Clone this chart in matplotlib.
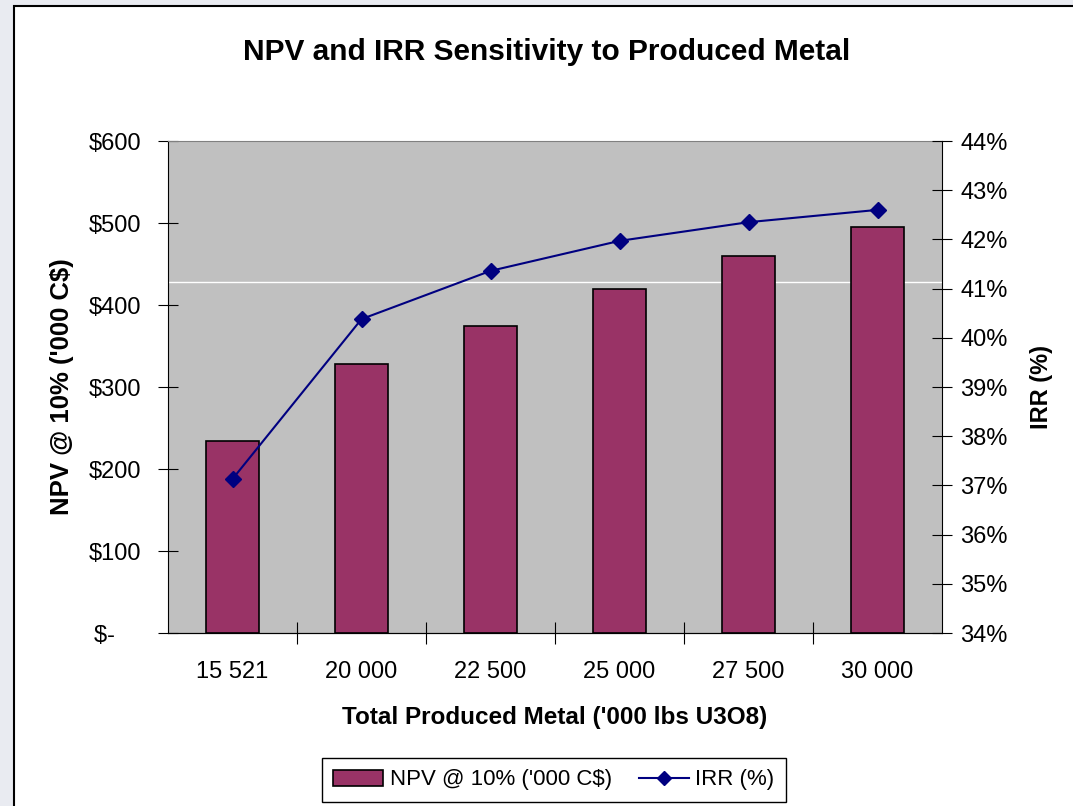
"""NPV and IRR sensitivity to produced metal."""

import matplotlib
matplotlib.use('Agg')
import matplotlib.pyplot as plt
import matplotlib.patches as patches
from matplotlib.lines import Line2D
import numpy as np

plt.rcParams['font.family'] = ['Liberation Sans', 'DejaVu Sans']

fontsize_title = 21.5
fontsize_label = 17.5
fontsize_ticks = 17

categories = ['15 521', '20 000', '22 500', '25 000', '27 500', '30 000']
npv = [234, 328, 375, 420, 460, 495]
irr = [37.13, 40.38, 41.36, 41.97, 42.35, 42.60]
npv_ticks = [0, 100, 200, 300, 400, 500, 600]
npv_ticklabels = ['$-    ', '$100', '$200', '$300', '$400', '$500', '$600']
irr_ticks = [34, 35, 36, 37, 38, 39, 40, 41, 42, 43, 44]

bar_color = '#993366'
line_color = '#000080'

fig = plt.figure(figsize=(10.73, 8.06), dpi=100)
fig.patch.set_facecolor('#e9ebf1')
# white chart frame
frame = patches.Rectangle((14/1073, -0.1), 1.2, 0.1 + (806-6)/806,
                          transform=fig.transFigure, facecolor='white',
                          edgecolor='black', lw=1.5, zorder=-10)
fig.patches.append(frame)

ax = fig.add_axes([168/1073, (806-633)/806, 774/1073, 492/806])
ax.set_facecolor('#c0c0c0')
x = np.arange(len(categories))
ax.bar(x, npv, width=0.41, color=bar_color, edgecolor='black', lw=1.2, zorder=3)
ax.axhline(428, color='white', lw=1, zorder=2)
ax.set_xlim(-0.5, len(categories) - 0.5)
ax.set_ylim(0, 600)
ax.set_yticks(npv_ticks)
ax.set_yticklabels(npv_ticklabels, fontsize=fontsize_ticks)
ax.set_xticks(x)
ax.set_xticklabels(categories, fontsize=fontsize_ticks)
ax.set_xticks(np.arange(0.5, len(categories) - 0.5, 1), minor=True)
ax.tick_params(axis='x', which='major', length=0, pad=20)
ax.tick_params(axis='x', which='minor', direction='inout', length=16, width=0.8)
ax.tick_params(axis='y', direction='inout', length=14, width=0.8, pad=12)
ax.spines['top'].set_color('#808080')
ax.spines['right'].set_visible(False)
ax.set_xlabel("Total Produced Metal ('000 lbs U3O8)", fontsize=fontsize_label,
              fontweight='bold', labelpad=17)
ax.set_ylabel("NPV @ 10% ('000 C$)", fontsize=18.5,
              fontweight='bold', labelpad=11)

ax2 = ax.twinx()
ax2.plot(x, irr, color=line_color, lw=1.5, marker='D', markersize=8, zorder=4)
ax2.set_ylim(34, 44)
ax2.set_yticks(irr_ticks)
ax2.set_yticklabels([str(t) + '%' for t in irr_ticks], fontsize=fontsize_ticks)
ax2.tick_params(axis='y', direction='inout', length=14, width=0.8, pad=6)
ax2.spines['top'].set_visible(False)
ax2.spines['left'].set_visible(False)
ax2.set_ylabel('IRR (%)', fontsize=17, fontweight='bold', labelpad=16)

fig.text(547/1073, (806-52)/806, 'NPV and IRR Sensitivity to Produced Metal',
         fontsize=fontsize_title, fontweight='bold', ha='center', va='center')

handles = [patches.Patch(facecolor=bar_color, edgecolor='black', lw=1.2),
           Line2D([], [], color=line_color, lw=1.5, marker='D', markersize=7)]
fig.legend(handles, ["NPV @ 10% ('000 C$)", 'IRR (%)'], loc='center',
           bbox_to_anchor=(554/1073, (806-780)/806), ncol=2, fontsize=16,
           frameon=True, fancybox=False, edgecolor='black', framealpha=1,
           handlelength=2.25, handletextpad=0.3, columnspacing=1.2,
           borderpad=0.5)

plt.savefig('out.png', dpi=100)
